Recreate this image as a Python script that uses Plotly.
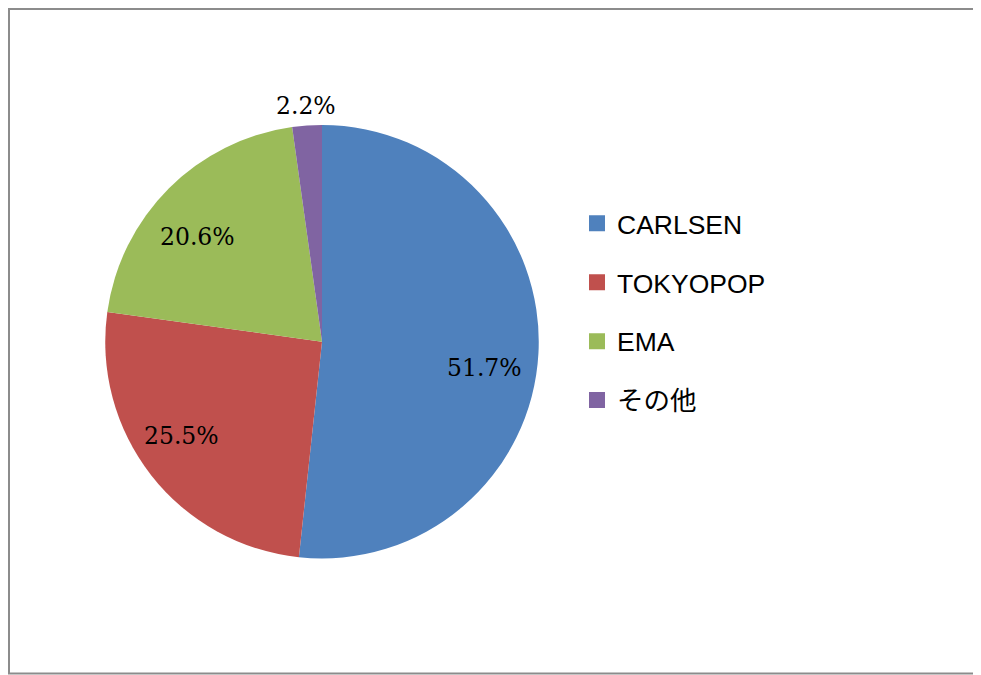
import math
import plotly.graph_objects as go

labels = ["CARLSEN", "TOKYOPOP", "EMA", "その他"]
values = [51.7, 25.5, 20.6, 2.2]
colors = ["#4F81BD", "#C0504D", "#9BBB59", "#8064A2"]
label_radius = [0.76, 0.78, 0.75, 1.09]   # label distance from centre, in pie radii
label_shift_deg = [6, 4, -5, 0]           # small angular nudge of each label

W, H = 981, 675
OFF = 8  # page body margin in the browser

def px(x):
    return (x - OFF) / W

def py(y):
    return 1 - (y - OFF) / H

# pie box in screen pixels
X0, X1, Y0, Y1 = 105, 539, 125, 558.5
CX, CY = (X0 + X1) / 2, (Y0 + Y1) / 2
R = min(X1 - X0, Y1 - Y0) / 2

fig = go.Figure()

fig.add_trace(go.Pie(
    labels=labels,
    values=values,
    sort=False,
    direction="clockwise",
    rotation=0,
    marker=dict(colors=colors, line=dict(width=0)),
    textinfo="none",
    domain=dict(x=[px(X0), px(X1)], y=[py(Y1), py(Y0)]),
    showlegend=False,
    hoverinfo="label+percent",
))

# percentage labels at each slice's mid-angle
total = sum(values)
annotations = []
cum = 0.0
for v, rf, sh in zip(values, label_radius, label_shift_deg):
    mid = (cum + v / 2) / total * 2 * math.pi + math.radians(sh)
    cum += v
    lx = CX + rf * R * math.sin(mid)
    ly = CY - rf * R * math.cos(mid)
    annotations.append(dict(
        x=px(lx), y=py(ly), xref="paper", yref="paper",
        text=f"{v / total * 100:.1f}%", showarrow=False,
        xanchor="center", yanchor="middle",
        font=dict(family="DejaVu Serif", size=23.5, color="#000000"),
    ))

# legend entries (one per slice, same colours)
for lab, col in zip(labels, colors):
    fig.add_trace(go.Scatter(
        x=[None], y=[None], mode="markers", name=lab, legendgroup=lab,
        marker=dict(symbol="square", size=16, color=col),
        showlegend=True,
    ))

fig.update_layout(
    width=W, height=H,
    margin=dict(l=0, r=0, t=0, b=0),
    paper_bgcolor="white",
    plot_bgcolor="white",
    xaxis=dict(visible=False),
    yaxis=dict(visible=False),
    annotations=annotations,
    legend=dict(
        x=px(577), xanchor="left",
        y=py(199.5), yanchor="top",
        font=dict(family="Liberation Sans, Arial, Noto Sans CJK JP", size=26.5, color="#000000"),
        tracegroupgap=21.5,
        traceorder="grouped",
        bgcolor="rgba(0,0,0,0)",
        itemclick=False,
    ),
    shapes=[dict(
        type="rect", xref="paper", yref="paper",
        x0=1 / W, x1=1.05, y0=py(673.5), y1=1 - 1 / H,
        line=dict(color="#8c8c8c", width=2), fillcolor="rgba(0,0,0,0)",
    )],
)

fig.write_html("out.html")
